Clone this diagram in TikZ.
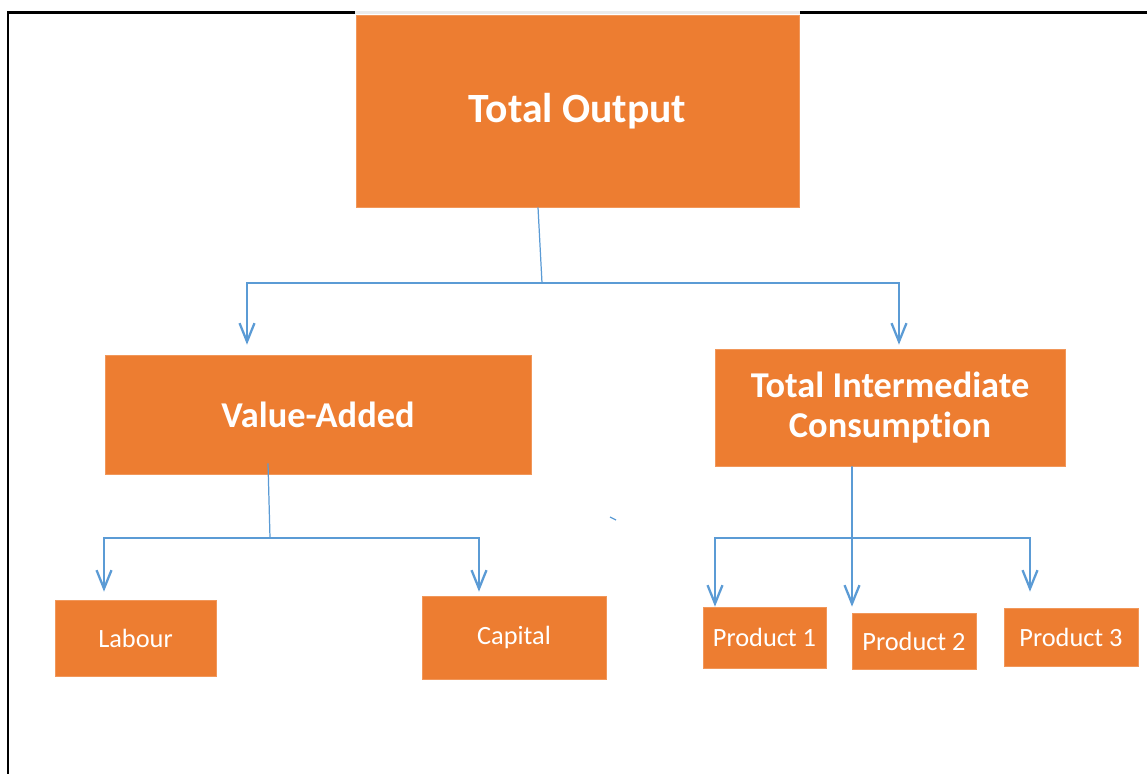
\documentclass[tikz,border=0pt]{standalone}
\usepackage{fontspec}
\setmainfont{Carlito}[Ligatures={NoCommon}]
\usepackage{tikz}
\usetikzlibrary{arrows.meta}
\definecolor{boxorange}{HTML}{ED7D31}
\definecolor{linkblue}{HTML}{5B9BD5}

\begin{document}
\begin{tikzpicture}[x=0.02cm, y=-0.02cm,
    box/.style={fill=boxorange, draw=boxorange!80!white, line width=0.4pt, inner sep=0pt, text=white, align=center},
    bigtxt/.style={font=\fontsize{23.7}{28}\selectfont\bfseries},
    midtxt/.style={font=\fontsize{20.7}{23.2}\selectfont\bfseries},
    smalltxt/.style={font=\fontsize{15}{18}\selectfont},
    link/.style={draw=linkblue, line width=1pt},
    arrow/.style={link, -{Straight Barb[length=10.5pt,width=8.5pt,line width=1.3pt]}}]
    \useasboundingbox (0,0) rectangle (1147,774);
    % Frame
    \draw[black, line width=1.2pt] (8,774) -- (8,12.5) -- (355,12.5);
    \draw[black!8, line width=1.2pt] (355,12.5) -- (800,12.5);
    \draw[black, line width=1.2pt] (800,12.5) -- (1147,12.5);
    % Boxes
    \node[box, bigtxt, minimum width=8.86cm, minimum height=3.84cm] (total) at (577.5,111) {Total Output};
    \node[box, midtxt, minimum width=8.52cm, minimum height=2.38cm] (va) at (318,414.5) {Value-Added};
    \node[box, midtxt, minimum width=7.0cm, minimum height=2.34cm] (tic) at (890,407.5) {Total Intermediate\\Consump\kern0pt tion};
    \node[box, smalltxt, minimum width=3.22cm, minimum height=1.52cm] (labour) at (135.5,638) {Labour};
    \node[box, smalltxt, minimum width=3.68cm, minimum height=1.66cm] (capital) at (514,637.5) {Capital};
    \node[box, smalltxt, minimum width=2.46cm, minimum height=1.22cm] (p1) at (764.5,637.5) {Product 1};
    \node[box, smalltxt, minimum width=2.48cm, minimum height=1.12cm] (p2) at (914,641) {Product 2};
    \node[box, smalltxt, minimum width=2.68cm, minimum height=1.16cm] (p3) at (1071,637) {Product 3};
    % Junctions
    \coordinate (tj) at (542,283);
    \coordinate (vj) at (270,538);
    \coordinate (ij) at (852,538);
    % Total output splits in two
    \draw[link, line width=0.7pt] ([xshift=-0.79cm]total.south) -- (tj);
    \draw[arrow] (tj) -| ([xshift=-1.42cm, yshift=0.2cm]va.north);
    \draw[arrow] (tj) -| ([xshift=0.18cm, yshift=0.08cm]tic.north);
    % Value-added branch
    \draw[link, line width=0.7pt] ([xshift=-1cm, yshift=0.22cm]va.south) -- (vj);
    \draw[arrow] (vj) -| ([xshift=-0.63cm, yshift=0.16cm]labour.north);
    \draw[arrow] (vj) -| ([xshift=-0.7cm, yshift=0.08cm]capital.north);
    % Intermediate consumption branch
    \draw[arrow] ([xshift=-0.76cm]tic.south) -- ([xshift=-1.24cm, yshift=0.12cm]p2.north);
    \draw[arrow] (ij) -| ([xshift=-0.99cm]p1.north);
    \draw[arrow] (ij) -| ([xshift=-0.82cm, yshift=0.32cm]p3.north);
    \draw[link, line width=0.7pt] (610,517) -- (616,520);
\end{tikzpicture}
\end{document}
